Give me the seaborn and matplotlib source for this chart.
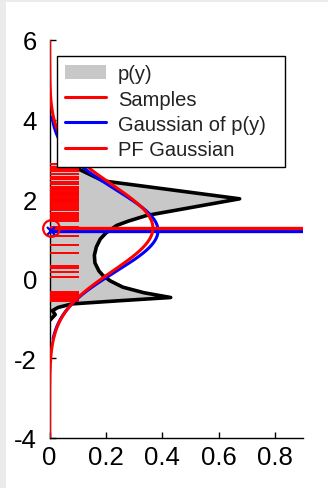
import numpy as np
import pandas as pd
import matplotlib
matplotlib.use("Agg")
import matplotlib.pyplot as plt
from matplotlib.patches import Patch, Rectangle
from matplotlib.lines import Line2D
import seaborn as sns

# p(y): density outline (y, density)
py_y = [2.87, 2.46, 2.01, 1.59, 1.45, 1.34, 1.15, 1.00, 0.80, 0.59, 0.40, 0.20,
        0.08, -0.05, -0.21, -0.35, -0.47,
        -0.55, -0.63, -0.72, -0.80, -0.90, -1.05]
py_density = [0.07, 0.19, 0.675, 0.344, 0.280, 0.238, 0.200, 0.180, 0.166, 0.159,
              0.161, 0.175, 0.190, 0.215, 0.260, 0.335, 0.430,
              0.250, 0.080, 0.030, 0.010, 0.020, 0.000]
py_top = 2.89

# particle samples (y positions)
samples = [2.88, 2.82, 2.76, 2.70, 2.63, 2.57, 2.50, 2.44, 2.37,
           2.31, 2.28, 2.25, 2.22, 2.19, 2.16, 2.13, 2.10, 2.07, 2.04, 2.01,
           1.98, 1.95, 1.92, 1.89,
           1.84, 1.78, 1.72, 1.66, 1.60, 1.55, 1.50, 1.45, 1.30, 1.22,
           1.07, 0.84, 0.65,
           0.31, 0.27, 0.16, 0.04,
           -0.32, -0.35, -0.38, -0.41, -0.44, -0.47, -0.50, -0.53, -0.56]
sample_len = 0.104

# Gaussian fits: mean, std, evaluated y-range
gauss_mean = [1.21, 1.275]
gauss_std = [1.036, 1.087]
gauss_range = [(-1.5, 4.07), (-4.0, 6.0)]
gauss_color = ["#0000ff", "#ff0000"]

sns.set_theme(style="white")
plt.rcParams["font.family"] = ["Liberation Sans", "DejaVu Sans"]

fig = plt.figure(figsize=(3.28, 4.89), dpi=100)
fig.patch.set_facecolor("white")
# light page border on the left and top
fig.add_artist(Rectangle((0, 0), 6 / 328, 1, transform=fig.transFigure,
                         facecolor="#ebebeb", edgecolor="none", zorder=0))
fig.add_artist(Rectangle((0, 1 - 3 / 489), 1, 3 / 489, transform=fig.transFigure,
                         facecolor="#ebebeb", edgecolor="none", zorder=0))

ax = fig.add_axes([49.6 / 328, 50 / 489, (303 - 49.6) / 328, 398 / 489])

# filled density
fill_y = [py_top] + py_y
fill_x = [py_density[0]] + py_density
ax.fill_betweenx(fill_y, 0, fill_x, color="#c8c8c8", linewidth=0, zorder=1)
df_py = pd.DataFrame({"y": py_y, "density": py_density})
sns.lineplot(data=df_py, x="density", y="y", orient="y", sort=False, estimator=None,
             color="black", linewidth=2.6, ax=ax, zorder=2)

# samples
ax.hlines(samples, 0, sample_len, colors="#ff0000", linewidth=1.4, zorder=3)

# Gaussian curves and their means
for m, s, (lo, hi), c in zip(gauss_mean, gauss_std, gauss_range, gauss_color):
    yy = np.linspace(lo, hi, 300)
    dens = np.exp(-0.5 * ((yy - m) / s) ** 2) / (np.sqrt(2 * np.pi) * s)
    df_g = pd.DataFrame({"y": yy, "density": dens})
    sns.lineplot(data=df_g, x="density", y="y", orient="y", sort=False, estimator=None,
                 color=c, linewidth=2.2, ax=ax, zorder=4)
    ax.hlines([m], 0, 0.9, colors=c, linewidth=2.4, zorder=4)

ax.plot([0.005], [gauss_mean[0]], marker="x", color="#0000ff", markersize=6,
        markeredgewidth=1.6, clip_on=False, zorder=6)
ax.plot([0.005], [gauss_mean[1]], marker="o", markerfacecolor="none",
        markeredgecolor="#ff0000", markersize=12, markeredgewidth=1.6,
        clip_on=False, zorder=6)

ax.set_xlim(0, 0.9)
ax.set_ylim(-4, 6)
ax.set_xlabel("")
ax.set_ylabel("")
ax.set_xticks([0, 0.2, 0.4, 0.6, 0.8])
ax.set_xticklabels(["0", "0.2", "0.4", "0.6", "0.8"])
ax.set_yticks([-4, -2, 0, 2, 4, 6])
ax.set_yticklabels(["-4", "-2", "0", "2", "4", "6"])
ax.tick_params(axis="both", direction="in", length=4, width=1, colors="black",
               labelsize=18.5, bottom=True, left=True)
ax.tick_params(axis="x", pad=5)
ax.tick_params(axis="y", pad=9)
for side in ["top", "right"]:
    ax.spines[side].set_visible(False)
for side in ["left", "bottom"]:
    ax.spines[side].set_color("black")
    ax.spines[side].set_linewidth(1.0)
ax.set_facecolor("white")

handles = [Patch(facecolor="#c8c8c8", edgecolor="none"),
           Line2D([], [], color="#ff0000", linewidth=2.2),
           Line2D([], [], color="#0000ff", linewidth=2.2),
           Line2D([], [], color="#ff0000", linewidth=2.2)]
labels = ["p(y)", "Samples", "Gaussian of p(y)", "PF Gaussian"]
leg_w = (285 - 57) / 328
leg = ax.legend(handles, labels, loc="upper left", mode="expand",
                bbox_to_anchor=(57 / 328, 1 - 57 / 489, leg_w, 0.0),
                bbox_transform=fig.transFigure,
                fontsize=14.5, frameon=True, fancybox=False, framealpha=1,
                edgecolor="black", borderpad=0.42, labelspacing=0.3,
                handlelength=2.0, handletextpad=0.6, borderaxespad=0)
leg.get_frame().set_linewidth(1.0)
for t in leg.get_texts():
    t.set_color("#222222")

fig.savefig("out.png", dpi=100, facecolor=fig.get_facecolor())
